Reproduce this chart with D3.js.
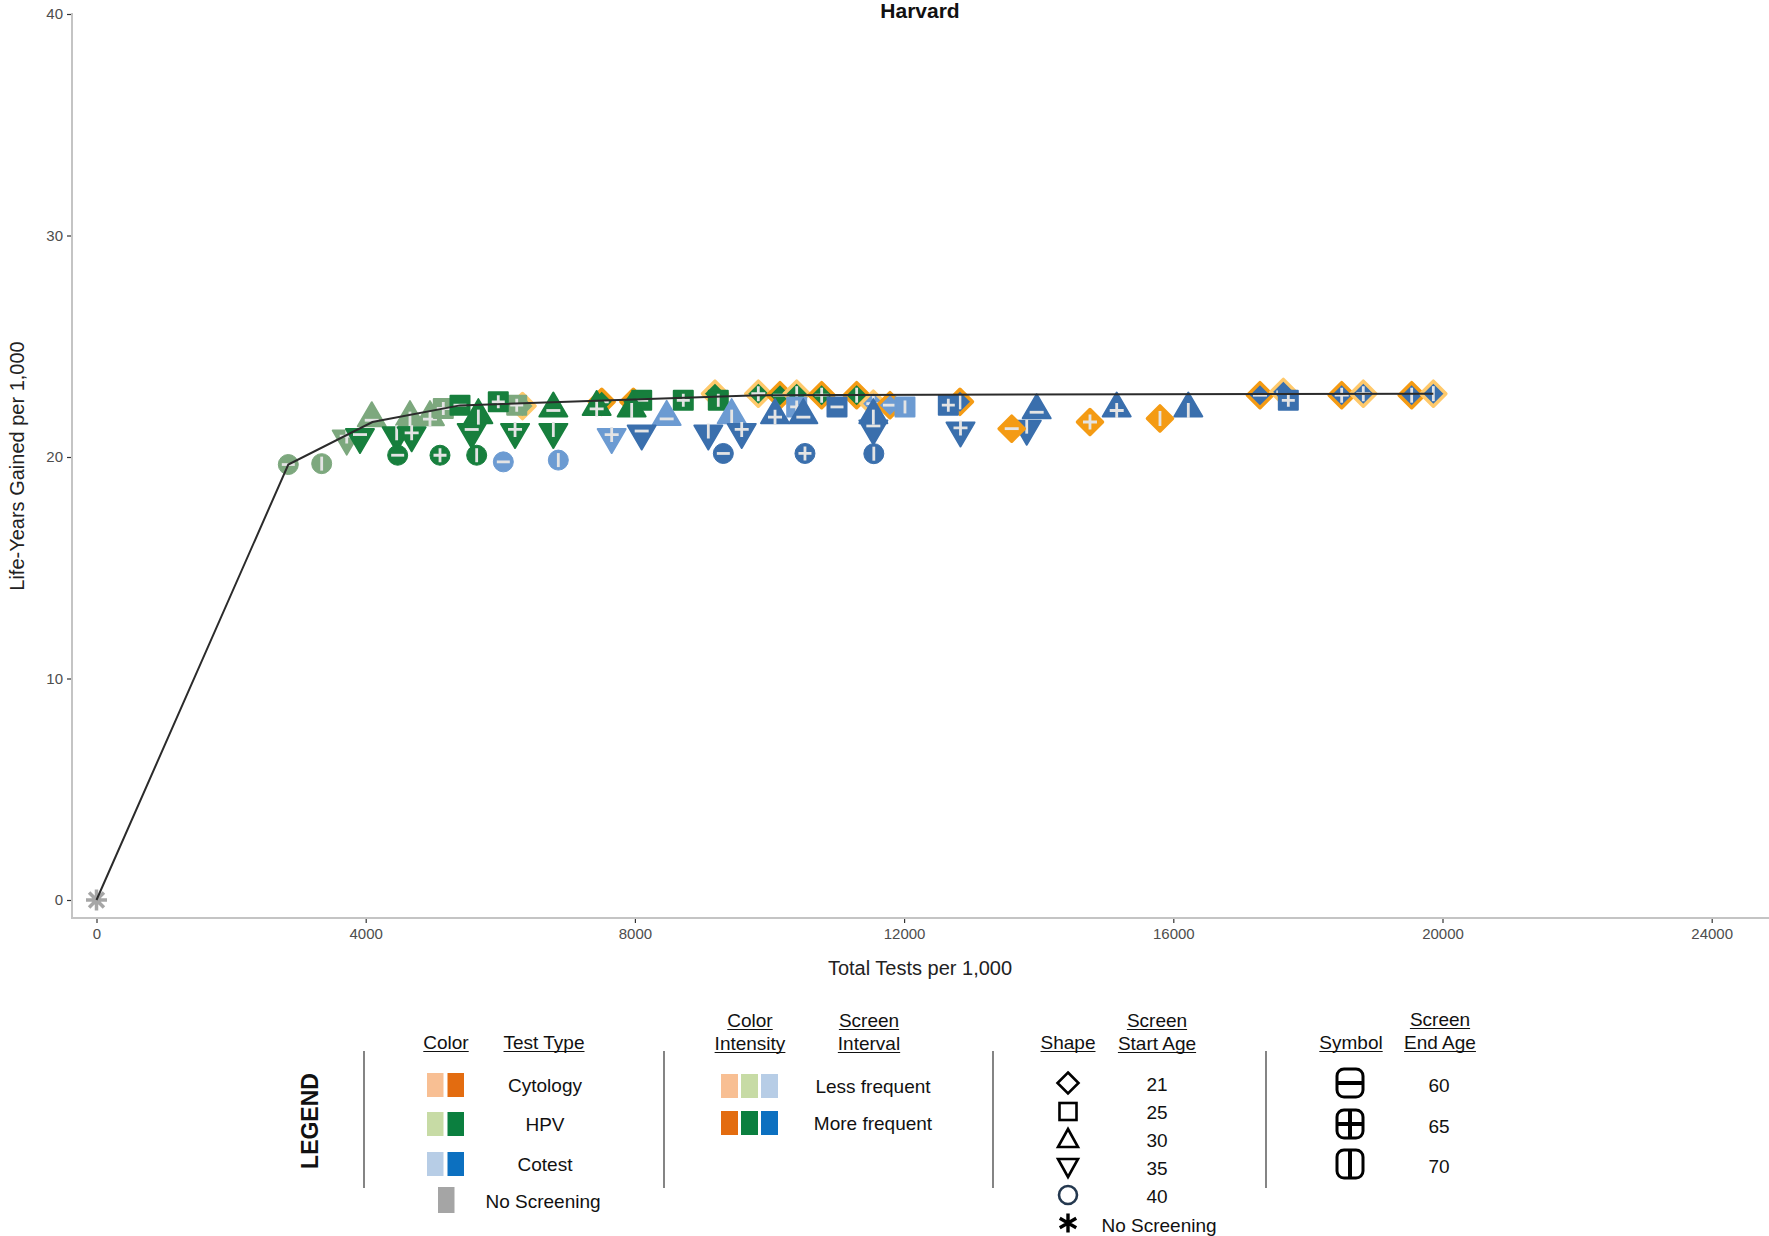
<!DOCTYPE html>
<html>
<head>
<meta charset="utf-8">
<script src="https://cdn.jsdelivr.net/npm/d3@7"></script>
<style>
  html, body { margin: 0; padding: 0; background: #fff; }
  svg { display: block; font-family: "Liberation Sans", Arial, Helvetica, sans-serif; }
</style>
</head>
<body>
<svg id="chart" width="1769" height="1236"></svg>
<script>
// Each strategy: [total tests per 1,000, life-years gained per 1,000, start age, end age]
// Start-age-21 strategies carry a 5th entry: frequency of the cytology lead-in.
const noScreening = [[0, 0]];

const hpvLess = [
  [2850, 19.66, 40, 60], [3346, 19.70, 40, 70], [3718, 20.83, 35, 65],
  [4090, 21.75, 30, 60], [4658, 21.80, 30, 70], [4955, 21.80, 30, 65],
  [5153, 22.19, 25, 65], [6330, 22.30, 21, 70, "less"], [6244, 22.34, 25, 65]
];

const hpvMore = [
  [7507, 22.49, 21, 60, "more"], [7977, 22.49, 21, 65, "more"], [9190, 22.86, 21, 60, "less"],
  [9834, 22.86, 21, 65, "less"], [10156, 22.79, 21, 60, "more"], [10404, 22.86, 21, 70, "less"],
  [10775, 22.79, 21, 65, "more"], [11295, 22.79, 21, 70, "more"],
  [3915, 20.90, 35, 60], [4460, 20.98, 35, 70], [4475, 20.08, 40, 60],
  [4683, 20.98, 35, 65], [5104, 20.08, 40, 65], [5401, 22.34, 25, 60],
  [5575, 21.13, 35, 60], [5649, 20.08, 40, 70], [5674, 21.89, 30, 70],
  [5970, 22.49, 25, 65], [6219, 21.13, 35, 65], [6788, 22.19, 30, 60],
  [6788, 21.13, 35, 70], [8101, 22.56, 25, 60], [7432, 22.26, 30, 65],
  [7952, 22.19, 30, 70], [8719, 22.56, 25, 65], [9239, 22.56, 25, 70]
];

const cotestLess = [
  [11543, 22.41, 21, 65, "less"], [11790, 22.34, 21, 60, "more"],
  [6045, 19.78, 40, 60], [6862, 19.86, 40, 70], [7655, 20.90, 35, 65],
  [8472, 21.81, 30, 60], [9438, 21.89, 30, 70], [10404, 22.26, 25, 65],
  [12013, 22.26, 25, 70]
];

const cotestMore = [
  [12830, 22.49, 21, 70, "more"], [17288, 22.79, 21, 60, "more"], [17635, 22.94, 21, 60, "less"],
  [18502, 22.79, 21, 65, "more"], [18823, 22.86, 21, 65, "less"], [19542, 22.79, 21, 70, "more"],
  [19864, 22.86, 21, 70, "less"],
  [8101, 21.06, 35, 60], [9091, 21.06, 35, 70], [9314, 20.16, 40, 60],
  [9587, 21.13, 35, 65], [10082, 21.89, 30, 65], [10527, 20.16, 40, 65],
  [10503, 21.89, 30, 60], [11003, 22.26, 25, 60], [11543, 21.29, 35, 60],
  [11543, 21.89, 30, 70], [11550, 20.15, 40, 70], [12657, 22.34, 25, 65],
  [12838, 21.20, 35, 65], [13822, 21.28, 35, 70], [13970, 22.11, 30, 60],
  [15159, 22.19, 30, 65], [16223, 22.19, 30, 70], [17709, 22.56, 25, 65]
];

const cytologyMore = [
  [13599, 21.28, 21, 60], [14762, 21.58, 21, 65], [15802, 21.74, 21, 70]
];

// Efficient frontier
const frontier = [
  [0, 0], [2850, 19.66], [4100, 21.58], [5401, 22.33], [9834, 22.79], [19864, 22.86]
];

const xTicks = [0, 4000, 8000, 12000, 16000, 20000, 24000];
const yTicks = [0, 10, 20, 30, 40];

// Marker colours used in the plot
const markColor = {
  cytMore: "#F49B14", cytLess: "#FFC96B",
  hpvMore: "#177F3D", hpvLess: "#7DA87E",
  coMore: "#3A6FAD", coLess: "#6C9BD2",
  none: "#A6A6A6"
};
const glyphColor = "#E4E4E4";

// Legend swatch colours
const legendColors = {
  cytology: ["#F8BF93", "#E36C10"],
  hpv: ["#C7DBA5", "#0B7F3F"],
  cotest: ["#B7CDE6", "#0C70C0"],
  none: "#A5A5A5"
};

const svg = d3.select("#chart");

const x = d3.scaleLinear().domain([0, 24000]).range([96.5, 1711.7]);
const y = d3.scaleLinear().domain([0, 40]).range([900, 14]);
const panelLeft = 72, panelBottom = 918, panelRight = 1769, panelTop = 14;

// ---- axes ----
const axisColor = "#C4C4C4";
const tickTextColor = "#4D4D4D";

svg.append("line").attr("x1", panelLeft).attr("x2", panelLeft)
  .attr("y1", panelTop - 1).attr("y2", panelBottom + 1)
  .attr("stroke", axisColor).attr("stroke-width", 2);
svg.append("line").attr("x1", panelLeft - 1).attr("x2", panelRight)
  .attr("y1", panelBottom).attr("y2", panelBottom)
  .attr("stroke", axisColor).attr("stroke-width", 2);

const xAxis = d3.axisBottom(x).tickValues(xTicks).tickSize(4).tickPadding(5).tickFormat(d3.format("d"));
const gx = svg.append("g").attr("transform", `translate(0,${panelBottom + 1})`).call(xAxis);
gx.select(".domain").remove();
gx.selectAll(".tick line").attr("stroke", "#333").attr("stroke-width", 1.2);
gx.selectAll(".tick text").attr("fill", tickTextColor).attr("font-size", 15)
  .attr("font-family", "'Liberation Sans', Arial, sans-serif");

const yAxis = d3.axisLeft(y).tickValues(yTicks).tickSize(4).tickPadding(4);
const gy = svg.append("g").attr("transform", `translate(${panelLeft - 1},0)`).call(yAxis);
gy.select(".domain").remove();
gy.selectAll(".tick line").attr("stroke", "#333").attr("stroke-width", 1.2);
gy.selectAll(".tick text").attr("fill", tickTextColor).attr("font-size", 15)
  .attr("font-family", "'Liberation Sans', Arial, sans-serif");

svg.append("text").attr("x", 920).attr("y", 18).attr("text-anchor", "middle")
  .attr("font-weight", "bold").attr("font-size", 21).attr("fill", "#111").text("Harvard");
svg.append("text").attr("x", 920).attr("y", 975).attr("text-anchor", "middle")
  .attr("font-size", 20).attr("fill", "#222").text("Total Tests per 1,000");
svg.append("text").attr("transform", "translate(24,466) rotate(-90)").attr("text-anchor", "middle")
  .attr("font-size", 20).attr("fill", "#222").text("Life-Years Gained per 1,000");

// ---- marker shapes ----
const shapeForStart = { 21: "diamond", 25: "square", 30: "up", 35: "down", 40: "circle" };

function shapePath(shape) {
  switch (shape) {
    case "diamond": return "M0,-12.5L12.5,0L0,12.5L-12.5,0Z";
    case "square": return "M-9.5,-9.5H9.5V9.5H-9.5Z";
    case "up": return "M0,-16L14,8L-14,8Z";
    case "down": return "M0,16L14,-8L-14,-8Z";
    default: return null;
  }
}

// Glyph marks the end age: 60 = bar, 65 = cross, 70 = upright bar
function glyphPath(shape, end) {
  let cx = 0, cy = 0, h = 6.5, v = 6.5;
  if (shape === "up") { cy = 2; h = 7; v = 7.5; }
  if (shape === "down") { cy = -2.5; h = 7; v = 7.5; }
  if (shape === "diamond") { h = 7; v = 7.5; }
  if (shape === "circle") { h = 6.5; v = 7; }
  let p = "";
  if (end === 60 || end === 65) p += `M${cx - h},${cy}H${cx + h}`;
  if (end === 70 || end === 65) p += `M${cx},${cy - v}V${cx + v + cy}`;
  return p;
}

const marks = svg.append("g");

function drawSeries(data, fillKey) {
  const rows = data.map(d => ({
    tests: d[0], lyg: d[1], start: d[2], end: d[3], lead: d[4], fill: markColor[fillKey]
  }));
  const g = marks.selectAll(null).data(rows).join("g")
    .attr("transform", d => `translate(${x(d.tests)},${y(d.lyg)})`);
  g.each(function (d) {
    const sel = d3.select(this);
    const shape = shapeForStart[d.start];
    if (shape === "circle") {
      sel.append("circle").attr("r", 10).attr("fill", d.fill)
        .attr("stroke", d.fill).attr("stroke-width", 1);
    } else if (shape === "diamond") {
      const outline = d.lead === "less" ? markColor.cytLess : markColor.cytMore;
      sel.append("path").attr("d", shapePath(shape)).attr("fill", d.fill)
        .attr("stroke", d.lead ? outline : d.fill).attr("stroke-width", 3.5)
        .attr("stroke-linejoin", "round");
    } else {
      sel.append("path").attr("d", shapePath(shape)).attr("fill", d.fill)
        .attr("stroke", d.fill).attr("stroke-width", 2).attr("stroke-linejoin", "round");
    }
    sel.append("path").attr("d", glyphPath(shape, d.end)).attr("fill", "none")
      .attr("stroke", glyphColor).attr("stroke-width", 2.8);
  });
}

drawSeries(hpvLess, "hpvLess");
drawSeries(hpvMore, "hpvMore");
drawSeries(cotestLess, "coLess");
drawSeries(cotestMore, "coMore");
drawSeries(cytologyMore, "cytMore");

// No screening: grey asterisk
function asterisk(g, r, arms, color, width) {
  const p = d3.range(arms).map(i => {
    const a = Math.PI * i / arms;
    return `M${-r * Math.sin(a)},${-r * Math.cos(a)}L${r * Math.sin(a)},${r * Math.cos(a)}`;
  }).join("");
  g.append("path").attr("d", p).attr("stroke", color).attr("stroke-width", width)
    .attr("stroke-linecap", "butt").attr("fill", "none");
}
noScreening.forEach(d => {
  const g = marks.append("g").attr("transform", `translate(${x(d[0])},${y(d[1])})`);
  asterisk(g, 10.5, 4, markColor.none, 3.5);
});

// Frontier line on top
svg.append("path").datum(frontier)
  .attr("d", d3.line().x(d => x(d[0])).y(d => y(d[1])))
  .attr("fill", "none").attr("stroke", "#2b2b2b").attr("stroke-width", 2);

// ---- legend ----
const lg = svg.append("g").attr("fill", "#111");
const fs = 19;

lg.append("text").attr("transform", "translate(318,1121) rotate(-90)").attr("text-anchor", "middle")
  .attr("font-weight", "bold").attr("font-size", 23).text("LEGEND");

[364, 664, 993, 1266].forEach(xx => {
  lg.append("line").attr("x1", xx).attr("x2", xx).attr("y1", 1051).attr("y2", 1188)
    .attr("stroke", "#333").attr("stroke-width", 1.2);
});

function header(cx, yy, txt) {
  const t = lg.append("text").attr("x", cx).attr("y", yy).attr("text-anchor", "middle")
    .attr("font-size", fs).text(txt);
  const w = t.node().getComputedTextLength();
  lg.append("line").attr("x1", cx - w / 2).attr("x2", cx + w / 2)
    .attr("y1", yy + 2.5).attr("y2", yy + 2.5).attr("stroke", "#111").attr("stroke-width", 1.1);
}
function label(cx, yy, txt) {
  lg.append("text").attr("x", cx).attr("y", yy).attr("text-anchor", "middle")
    .attr("dominant-baseline", "central").attr("font-size", fs).text(txt);
}

// Test type
header(446, 1049, "Color");
header(544, 1049, "Test Type");
const typeRows = [["Cytology", legendColors.cytology, 1085], ["HPV", legendColors.hpv, 1124], ["Cotest", legendColors.cotest, 1164]];
typeRows.forEach(([name, cols, yy]) => {
  lg.append("rect").attr("x", 427).attr("y", yy - 12).attr("width", 16.5).attr("height", 24).attr("fill", cols[0]);
  lg.append("rect").attr("x", 447.5).attr("y", yy - 12).attr("width", 16.5).attr("height", 24).attr("fill", cols[1]);
  label(545, yy, name);
});
lg.append("rect").attr("x", 438).attr("y", 1187).attr("width", 16.5).attr("height", 26).attr("fill", legendColors.none);
label(543, 1201, "No Screening");

// Interval
header(750, 1027, "Color");
header(750, 1050, "Intensity");
header(869, 1027, "Screen");
header(869, 1050, "Interval");
[[0, 1086, "Less frequent"], [1, 1123, "More frequent"]].forEach(([k, yy, txt]) => {
  [legendColors.cytology, legendColors.hpv, legendColors.cotest].forEach((cols, i) => {
    lg.append("rect").attr("x", 721 + i * 20).attr("y", yy - 12).attr("width", 17).attr("height", 24).attr("fill", cols[k]);
  });
  label(873, yy, txt);
});

// Start age
header(1068, 1049, "Shape");
header(1157, 1027, "Screen");
header(1157, 1050, "Start Age");
const sx = 1068;
lg.append("path").attr("d", "M0,-10.5L10.5,0L0,10.5L-10.5,0Z").attr("transform", `translate(${sx},1083)`)
  .attr("fill", "none").attr("stroke", "#000").attr("stroke-width", 2.6);
lg.append("rect").attr("x", sx - 8.5).attr("y", 1103).attr("width", 17).attr("height", 17)
  .attr("fill", "none").attr("stroke", "#000").attr("stroke-width", 2.6);
lg.append("path").attr("d", "M0,-10L10,8L-10,8Z").attr("transform", `translate(${sx},1139)`)
  .attr("fill", "none").attr("stroke", "#000").attr("stroke-width", 2.6);
lg.append("path").attr("d", "M0,10L10,-8L-10,-8Z").attr("transform", `translate(${sx},1167)`)
  .attr("fill", "none").attr("stroke", "#000").attr("stroke-width", 2.6);
lg.append("circle").attr("cx", sx).attr("cy", 1195).attr("r", 9)
  .attr("fill", "none").attr("stroke", "#24384F").attr("stroke-width", 2.6);
asterisk(lg.append("g").attr("transform", `translate(${sx},1223)`), 9.5, 3, "#000", 3.4);
[["21", 1084], ["25", 1112], ["30", 1140], ["35", 1168], ["40", 1196]].forEach(([t, yy]) => label(1157, yy, t));
label(1159, 1225, "No Screening");

// End age
header(1351, 1049, "Symbol");
header(1440, 1026, "Screen");
header(1440, 1049, "End Age");
[[60, 1083], [65, 1124], [70, 1164]].forEach(([end, yy]) => {
  const g = lg.append("g").attr("transform", `translate(1350,${yy})`);
  g.append("rect").attr("x", -13).attr("y", -14).attr("width", 26).attr("height", 28).attr("rx", 7)
    .attr("fill", "none").attr("stroke", "#000").attr("stroke-width", 3);
  let p = "";
  if (end !== 70) p += "M-13,0H13";
  if (end !== 60) p += "M0,-14V14";
  g.append("path").attr("d", p).attr("stroke", "#000").attr("stroke-width", 4);
  label(1439, yy + 2, String(end));
});
</script>
</body>
</html>
